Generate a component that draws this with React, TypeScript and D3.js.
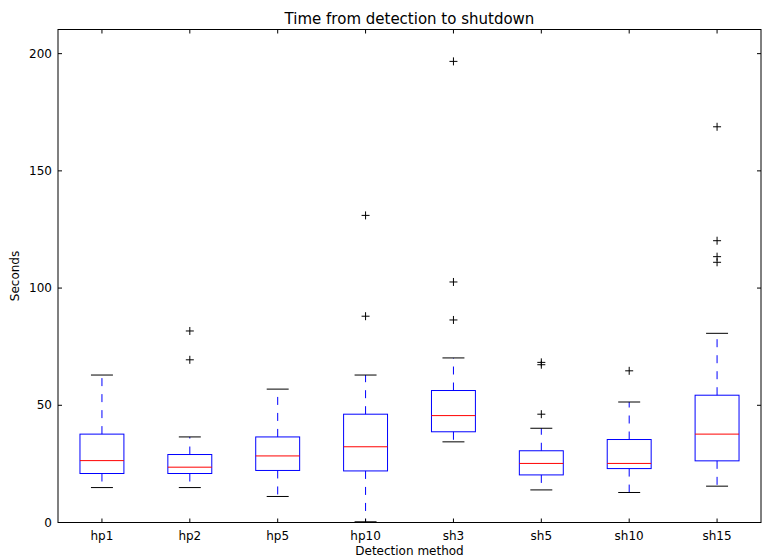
import React from "react";
import * as d3 from "d3";

const categories = ["hp1", "hp2", "hp5", "hp10", "sh3", "sh5", "sh10", "sh15"];
const whiskerLow = [14.9, 14.9, 11.1, 0.3, 34.4, 13.9, 12.8, 15.5];
const q1 = [20.9, 20.9, 22.2, 22.0, 38.7, 20.3, 23.0, 26.3];
const medians = [26.4, 23.6, 28.4, 32.3, 45.6, 25.2, 25.2, 37.7];
const q3 = [37.7, 29.0, 36.5, 46.2, 56.3, 30.6, 35.4, 54.3];
const whiskerHigh = [62.9, 36.5, 56.9, 62.9, 70.2, 40.2, 51.4, 80.7];
const outliers: number[][] = [
  [],
  [81.7, 69.4],
  [],
  [131.0, 88.0],
  [196.7, 102.6, 86.4],
  [46.2, 67.3, 68.3],
  [64.7],
  [168.8, 120.2, 113.4, 111.0],
];
const yTicks = [0, 50, 100, 150, 200];

const W = 766;
const H = 559;
const M = { left: 58, right: 5, top: 29.5, bottom: 36.5 };

export default function App() {
  const x0 = M.left;
  const x1 = W - M.right;
  const y0 = H - M.bottom;
  const y1 = M.top;
  const x = d3.scaleLinear().domain([0.5, categories.length + 0.5]).range([x0, x1]);
  const y = d3.scaleLinear().domain([0, 210.3]).range([y0, y1]);
  const unit = x(1) - x(0);
  const boxHalf = unit * 0.25;
  const capHalf = unit * 0.125;
  const font = "'DejaVu Sans', sans-serif";
  const tl = 4;

  return (
    <svg
      width={W}
      height={H}
      style={{ position: "absolute", left: 0, top: 0, background: "#fff" }}
      fontFamily={font}
    >
      <rect x={0} y={0} width={W} height={H} fill="#fff" />
      {categories.map((c, i) => {
        const cx = x(i + 1);
        return (
          <g key={c}>
            <line x1={cx} x2={cx} y1={y(q3[i])} y2={y(whiskerHigh[i])} stroke="#0000ff" strokeDasharray="8,8" strokeWidth={1} />
            <line x1={cx} x2={cx} y1={y(q1[i])} y2={y(whiskerLow[i])} stroke="#0000ff" strokeDasharray="8,8" strokeWidth={1} />
            <line x1={cx - capHalf} x2={cx + capHalf} y1={y(whiskerHigh[i])} y2={y(whiskerHigh[i])} stroke="#000" strokeWidth={1} />
            <line x1={cx - capHalf} x2={cx + capHalf} y1={y(whiskerLow[i])} y2={y(whiskerLow[i])} stroke="#000" strokeWidth={1} />
            <rect x={cx - boxHalf} y={y(q3[i])} width={boxHalf * 2} height={y(q1[i]) - y(q3[i])} fill="none" stroke="#0000ff" strokeWidth={1} />
            <line x1={cx - boxHalf} x2={cx + boxHalf} y1={y(medians[i])} y2={y(medians[i])} stroke="#ff0000" strokeWidth={1} />
            {outliers[i].map((v, j) => (
              <g key={j}>
                <line x1={cx - 4} x2={cx + 4} y1={y(v)} y2={y(v)} stroke="#000" strokeWidth={1} />
                <line x1={cx} x2={cx} y1={y(v) - 4} y2={y(v) + 4} stroke="#000" strokeWidth={1} />
              </g>
            ))}
          </g>
        );
      })}
      <rect x={x0} y={y1} width={x1 - x0} height={y0 - y1} fill="none" stroke="#000" strokeWidth={1} />
      {yTicks.map((t) => (
        <g key={t}>
          <line x1={x0} x2={x0 + tl} y1={y(t)} y2={y(t)} stroke="#000" />
          <line x1={x1} x2={x1 - tl} y1={y(t)} y2={y(t)} stroke="#000" />
          <text x={x0 - 6} y={y(t)} dy="0.35em" textAnchor="end" fontSize={12} fill="#000">
            {t}
          </text>
        </g>
      ))}
      {categories.map((c, i) => (
        <g key={c}>
          <line x1={x(i + 1)} x2={x(i + 1)} y1={y0} y2={y0 - tl} stroke="#000" />
          <line x1={x(i + 1)} x2={x(i + 1)} y1={y1} y2={y1 + tl} stroke="#000" />
          <text x={x(i + 1)} y={y0 + 17} textAnchor="middle" fontSize={12} fill="#000">
            {c}
          </text>
        </g>
      ))}
      <text x={(x0 + x1) / 2} y={y1 - 6} textAnchor="middle" fontSize={15} fill="#000">
        Time from detection to shutdown
      </text>
      <text x={(x0 + x1) / 2} y={H - 4} textAnchor="middle" fontSize={12} fill="#000">
        Detection method
      </text>
      <text
        transform={`translate(19, ${(y0 + y1) / 2}) rotate(-90)`}
        textAnchor="middle"
        fontSize={12}
        fill="#000"
      >
        Seconds
      </text>
    </svg>
  );
}
